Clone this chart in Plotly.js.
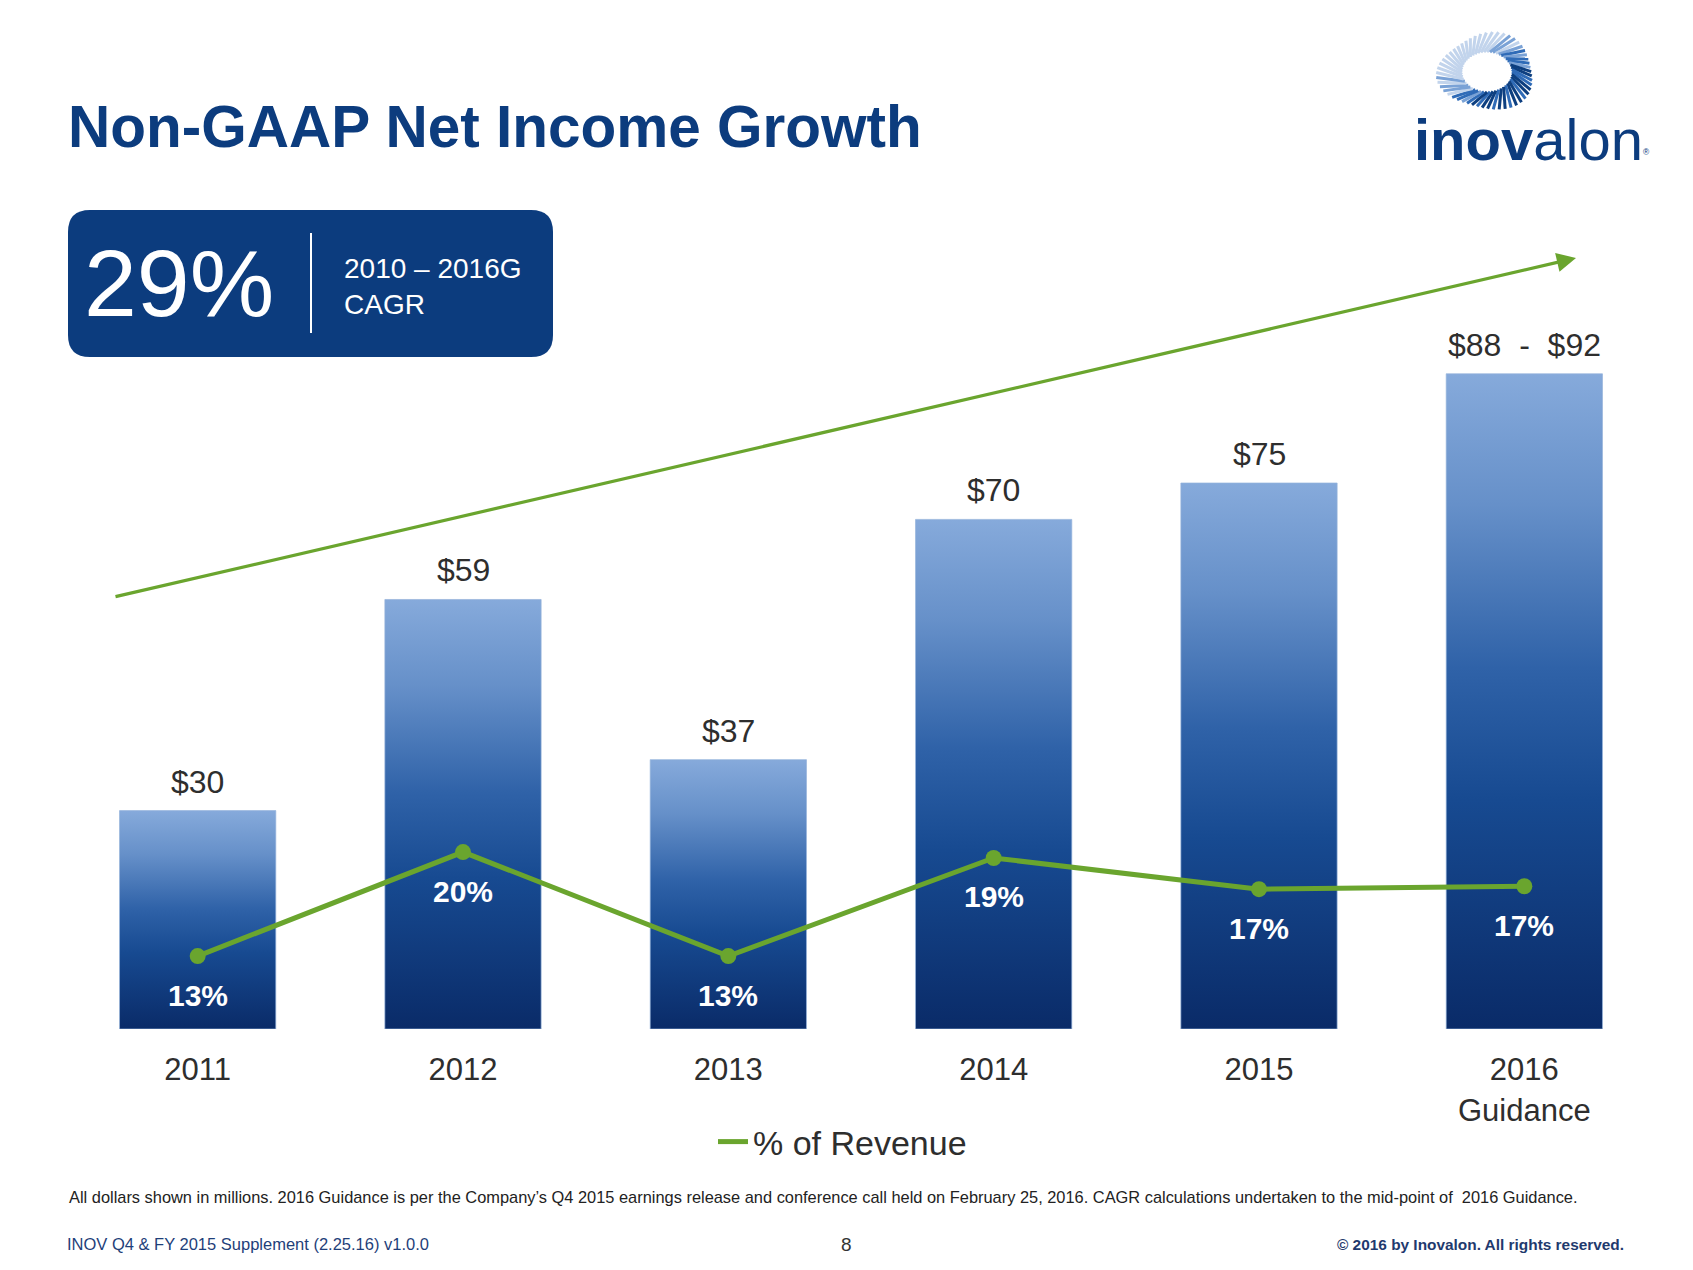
<!DOCTYPE html>
<html>
<head>
<meta charset="utf-8">
<script src="https://cdn.plot.ly/plotly-3.0.1.min.js"></script>
<style>
  html, body { margin:0; padding:0; background:#ffffff; }
  #chart { width:1693px; height:1270px; }
</style>
</head>
<body>
<div id="chart"></div>
<script>
// ---------- DATA ----------
const categories   = ['2011', '2012', '2013', '2014', '2015', '2016<br>Guidance'];
const netIncome    = [30, 59, 37, 70, 75, 90];           // $M (2016 = mid-point of guidance)
const dollarLabels = ['$30', '$59', '$37', '$70', '$75', '$88  -  $92'];
const pctRevenue   = [13, 20, 13, 19.6, 17.5, 17.7];      // % of revenue (line positions)
const pctLabels    = ['13%', '20%', '13%', '19%', '17%', '17%'];
const seriesName   = '% of Revenue';

// ---------- LAYOUT GEOMETRY (pixels) ----------
const W = 1693, H = 1270;
const M = { l: 65, r: 36, t: 301, b: 241 };
const plotW = W - M.l - M.r, plotH = H - M.t - M.b;
const PX = px => (px - M.l) / plotW;
const PY = py => (H - M.b - py) / plotH;

const NAVY = '#0c3c7e';
const GREEN = '#6aa52e';
const TEXT = '#2e2e2e';
const FONT = 'Liberation Sans, Arial, sans-serif';

// ---------- TRACES ----------
const bars = {
  type: 'bar', x: categories, y: netIncome, yaxis: 'y',
  marker: { color: '#2a5ba0', line: { color: 'rgba(150,180,220,0.7)', width: 1 } },
  showlegend: false, hoverinfo: 'skip'
};
const line = {
  type: 'scatter', mode: 'lines', x: categories, y: pctRevenue, yaxis: 'y2',
  name: seriesName, line: { color: GREEN, width: 5 }, hoverinfo: 'skip'
};
const dots = {
  type: 'scatter', mode: 'markers', x: categories, y: pctRevenue, yaxis: 'y2',
  marker: { color: GREEN, size: 16 }, showlegend: false, hoverinfo: 'skip'
};

// ---------- ANNOTATIONS ----------
const ann = [];
categories.forEach((c, i) => {
  // category axis: use the category index as position
  ann.push({ xref: 'x', yref: 'y', x: i, y: netIncome[i], yshift: 29, yanchor: 'middle',
    text: dollarLabels[i], showarrow: false, font: { family: FONT, size: 32, color: TEXT } });
  ann.push({ xref: 'x', yref: 'y2', x: i, y: pctRevenue[i], yshift: -39, yanchor: 'middle',
    text: '<b>' + pctLabels[i] + '</b>', showarrow: false, font: { family: FONT, size: 30, color: '#ffffff' } });
});
// Title
ann.push({ xref: 'paper', yref: 'paper', x: PX(66), y: PY(127), xanchor: 'left', yanchor: 'middle',
  text: '<b>Non-GAAP Net Income Growth</b>', showarrow: false,
  font: { family: FONT, size: 58.5, color: NAVY } });
// CAGR box texts
ann.push({ xref: 'paper', yref: 'paper', x: PX(179), y: PY(283), xanchor: 'center', yanchor: 'middle',
  text: '29%', showarrow: false, font: { family: FONT, size: 95, color: '#ffffff' } });
ann.push({ xref: 'paper', yref: 'paper', x: PX(342), y: PY(286), xanchor: 'left', yanchor: 'middle',
  text: '2010 – 2016G<br>CAGR', align: 'left', showarrow: false,
  font: { family: FONT, size: 28, color: '#ffffff' } });
// Trend arrow
ann.push({ xref: 'paper', yref: 'paper', x: PX(1576), y: PY(258), ax: 114 - 1576, ay: 597 - 258,
  axref: 'pixel', ayref: 'pixel', showarrow: true, arrowhead: 2, arrowsize: 1.2, arrowwidth: 3.2,
  arrowcolor: GREEN, standoff: 0, text: '' });
// Logo text
ann.push({ xref: 'paper', yref: 'paper', x: PX(1412), y: PY(140), xanchor: 'left', yanchor: 'middle',
  text: '<b>inov</b>alon<span style="font-size:12px"><sup>®</sup></span>', showarrow: false,
  font: { family: FONT, size: 58, color: NAVY } });
// Footer
ann.push({ xref: 'paper', yref: 'paper', x: PX(67), y: PY(1197), xanchor: 'left', yanchor: 'middle',
  text: 'All dollars shown in millions. 2016 Guidance is per the Company\u2019s Q4 2015 earnings release and conference call held on February 25, 2016. CAGR calculations undertaken to the mid-point of  2016 Guidance.',
  showarrow: false, font: { family: FONT, size: 16.4, color: '#222222' } });
ann.push({ xref: 'paper', yref: 'paper', x: PX(65), y: PY(1244), xanchor: 'left', yanchor: 'middle',
  text: 'INOV Q4 &amp; FY 2015 Supplement (2.25.16) v1.0.0', showarrow: false,
  font: { family: FONT, size: 16.5, color: '#1f3f7a' } });
ann.push({ xref: 'paper', yref: 'paper', x: PX(846), y: PY(1244), xanchor: 'center', yanchor: 'middle',
  text: '8', showarrow: false, font: { family: FONT, size: 19, color: '#333333' } });
ann.push({ xref: 'paper', yref: 'paper', x: PX(1626), y: PY(1244), xanchor: 'right', yanchor: 'middle',
  text: '<b>© 2016 by Inovalon. All rights reserved.</b>', showarrow: false,
  font: { family: FONT, size: 15.4, color: '#1f3a6e' } });

// ---------- SHAPES ----------
const shapes = [];
// rounded CAGR box
(function () {
  const x0 = 68, x1 = 553, y0 = 210, y1 = 357, r = 22;
  const p = (x, y) => PX(x) + ',' + PY(y);
  const path = 'M' + p(x0 + r, y0) + ' L' + p(x1 - r, y0) + ' Q' + p(x1, y0) + ' ' + p(x1, y0 + r) +
    ' L' + p(x1, y1 - r) + ' Q' + p(x1, y1) + ' ' + p(x1 - r, y1) +
    ' L' + p(x0 + r, y1) + ' Q' + p(x0, y1) + ' ' + p(x0, y1 - r) +
    ' L' + p(x0, y0 + r) + ' Q' + p(x0, y0) + ' ' + p(x0 + r, y0) + ' Z';
  shapes.push({ type: 'path', xref: 'paper', yref: 'paper', path: path, fillcolor: NAVY, line: { width: 0 } });
  shapes.push({ type: 'line', xref: 'paper', yref: 'paper', x0: PX(311), x1: PX(311), y0: PY(233), y1: PY(333),
    line: { color: '#ffffff', width: 2 } });
})();
// logo swirl
(function () {
  const cx = 1487, cy = 72, n = 52;
  const cols = ['#0d3f80', '#2f6bb7', '#7aa2d6', '#c2d4ec'];
  for (let k = 0; k < n; k++) {
    const t = k / n * 2 * Math.PI;
    const tw = t + 0.35;
    const ro = 1.9 + 0.15 * Math.sin(3 * t);
    const ix = cx + 25 * Math.cos(t), iy = cy + 20 * Math.sin(t);
    const ox = cx + 25 * ro * Math.cos(tw), oy = cy + 20 * ro * Math.sin(tw);
    const shade = Math.cos(t - 0.6);
    const ci = shade > 0.5 ? 0 : shade > 0 ? 1 : shade > -0.5 ? 2 : 3;
    shapes.push({ type: 'line', xref: 'paper', yref: 'paper', x0: PX(ix), y0: PY(iy), x1: PX(ox), y1: PY(oy),
      line: { color: cols[(k % 3 === 0 && ci < 3) ? ci + 1 : ci], width: 3 } });
  }
})();

const layout = {
  width: W, height: H, margin: M,
  paper_bgcolor: '#ffffff', plot_bgcolor: '#ffffff',
  bargap: 0.411,
  font: { family: FONT, color: TEXT },
  xaxis: {
    type: 'category', range: [-0.5, 5.5], showgrid: false, zeroline: false, showline: false,
    ticks: 'outside', ticklen: 13, tickcolor: 'rgba(0,0,0,0)',
    tickfont: { family: FONT, size: 31, color: TEXT }, fixedrange: true
  },
  yaxis: { range: [0, 100], visible: false, showgrid: false, zeroline: false, fixedrange: true },
  yaxis2: { range: [8.09, 57.09], overlaying: 'y', visible: false, showgrid: false, zeroline: false },
  showlegend: true,
  legend: {
    orientation: 'h', x: PX(713), y: PY(1142), xanchor: 'left', yanchor: 'middle',
    font: { family: FONT, size: 34, color: TEXT }, bgcolor: 'rgba(0,0,0,0)'
  },
  annotations: ann,
  shapes: shapes
};

const gd = document.getElementById('chart');
Plotly.newPlot(gd, [bars, line, dots], layout, { staticPlot: true, displayModeBar: false }).then(function () {
  const ns = 'http://www.w3.org/2000/svg';
  const svg = gd.querySelector('.main-svg');
  let defs = svg.querySelector('defs');
  if (!defs) { defs = document.createElementNS(ns, 'defs'); svg.insertBefore(defs, svg.firstChild); }
  const lg = document.createElementNS(ns, 'linearGradient');
  lg.setAttribute('id', 'barGrad');
  lg.setAttribute('x1', '0'); lg.setAttribute('y1', '0'); lg.setAttribute('x2', '0'); lg.setAttribute('y2', '1');
  [['0', '#86aadb'], ['0.2', '#6690c9'], ['0.45', '#2f62a8'], ['0.65', '#174a91'], ['1', '#0a2b68']].forEach(s => {
    const st = document.createElementNS(ns, 'stop');
    st.setAttribute('offset', s[0]); st.setAttribute('stop-color', s[1]);
    lg.appendChild(st);
  });
  defs.appendChild(lg);
  gd.querySelectorAll('.barlayer .point path').forEach(p => { p.style.fill = 'url(#barGrad)'; });
});
</script>
</body>
</html>
